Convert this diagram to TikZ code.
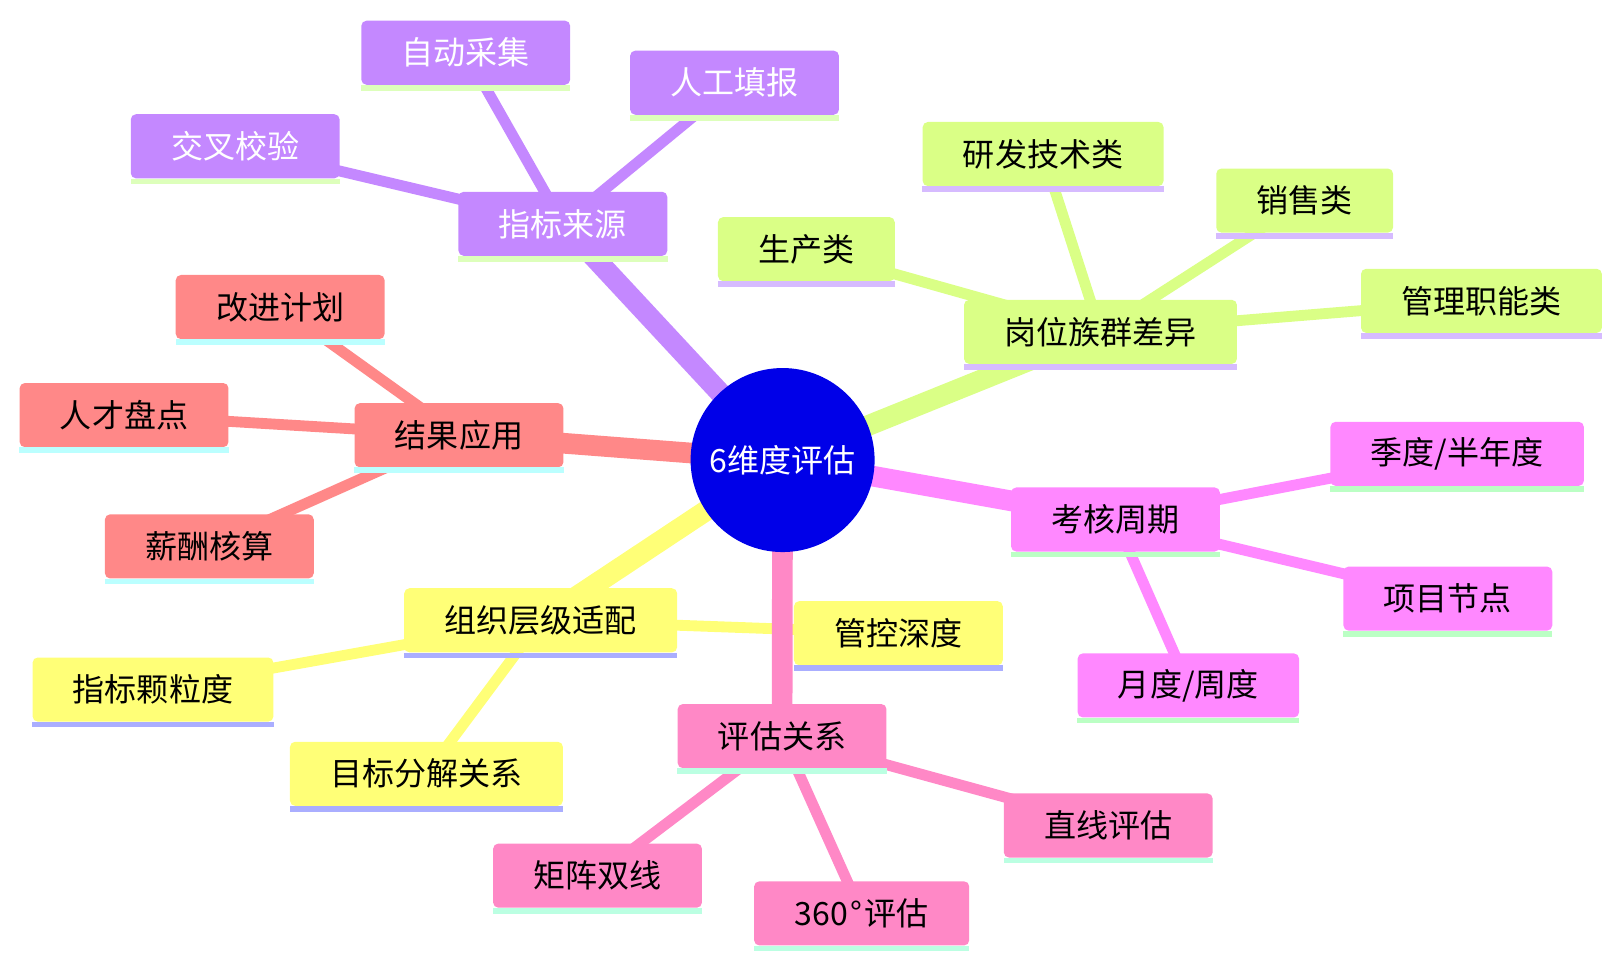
\documentclass[tikz,border=0pt]{standalone}
\usepackage{fontspec}
\newfontfamily\cjk{Noto Sans CJK SC}
\pgfdeclarelayer{bg}
\pgfsetlayers{bg,main}
\definecolor{cPur}{HTML}{C488FF}
\definecolor{cPurL}{HTML}{DDFFBB}
\definecolor{cLim}{HTML}{DAFF86}
\definecolor{cLimL}{HTML}{D6BBFF}
\definecolor{cMag}{HTML}{FF88FF}
\definecolor{cMagL}{HTML}{BBFFC4}
\definecolor{cHot}{HTML}{FF88C6}
\definecolor{cHotL}{HTML}{BBFFE2}
\definecolor{cYel}{HTML}{FFFF77}
\definecolor{cYelL}{HTML}{AAAEFF}
\definecolor{cSal}{HTML}{FF8888}
\definecolor{cSalL}{HTML}{BBFFFF}
\definecolor{cRoot}{HTML}{0000E8}
\begin{document}
\begin{tikzpicture}[x=1pt,y=-1pt,
  box/.style={rectangle, rounded corners=5pt, minimum height=62pt, inner xsep=39pt, inner ysep=0pt,
    font=\cjk\fontsize{31}{35}\selectfont},
  sPur/.style={box, fill=cPur, text=white},
  sLim/.style={box, fill=cLim, text=black},
  sMag/.style={box, fill=cMag, text=black},
  sHot/.style={box, fill=cHot, text=black},
  sYel/.style={box, fill=cYel, text=black},
  sSal/.style={box, fill=cSal, text=black},
  rootedge/.style={line width=20pt},
  childedge/.style={line width=10.5pt},
]
\useasboundingbox (0,0) rectangle (1568,937);

% root
\node[circle, fill=cRoot, text=white, minimum size=178pt, inner sep=0pt,
  font=\cjk\fontsize{31}{35}\selectfont] (root) at (757,445) {6维度评估};

% purple section
\node[sPur] (src) at (544.5,216.5) {指标来源};
\node[sPur] (auto) at (450.5,51) {自动采集};
\node[sPur] (manual) at (710.5,80) {人工填报};
\node[sPur] (cross) at (227.5,141.5) {交叉校验};

% lime section
\node[sLim] (fam) at (1064.5,321) {岗位族群差异};
\node[sLim] (prod) at (780,241) {生产类};
\node[sLim] (rd) at (1009,149) {研发技术类};
\node[sLim] (sale) at (1262,194) {销售类};
\node[sLim] (mgmt) at (1433,291) {管理职能类};

% magenta section
\node[sMag] (cyc) at (1079,502.5) {考核周期};
\node[sMag] (quar) at (1409.5,439) {季度/半年度};
\node[sMag] (proj) at (1400.5,579) {项目节点};
\node[sMag] (month) at (1149.5,663) {月度/周度};

% hot pink section
\node[sHot] (rel) at (756.5,712) {评估关系};
\node[sHot] (line) at (1072,798.5) {直线评估};
\node[sHot] (matrix) at (578,847) {矩阵双线};
\node[sHot] (three) at (833.5,883.5) {360\kern2.5pt°\kern2.5pt评估};

% yellow section
\node[sYel] (org) at (523,600) {组织层级适配};
\node[sYel] (depth) at (869,612.5) {管控深度};
\node[sYel] (gran) at (148,667) {指标颗粒度};
\node[sYel] (goal) at (412.5,748.5) {目标分解关系};

% salmon section
\node[sSal] (use) at (444,421) {结果应用};
\node[sSal] (impr) at (271,297) {改进计划};
\node[sSal] (talent) at (120,401.5) {人才盘点};
\node[sSal] (pay) at (202.5,528.5) {薪酬核算};

% underlines
\foreach \n/\c in {src/cPurL,auto/cPurL,manual/cPurL,cross/cPurL,
  fam/cLimL,prod/cLimL,rd/cLimL,sale/cLimL,mgmt/cLimL,
  cyc/cMagL,quar/cMagL,proj/cMagL,month/cMagL,
  rel/cHotL,line/cHotL,matrix/cHotL,three/cHotL,
  org/cYelL,depth/cYelL,gran/cYelL,goal/cYelL,
  use/cSalL,impr/cSalL,talent/cSalL,pay/cSalL}
  \fill[\c] (\n.south west) rectangle ([yshift=-5.5pt]\n.south east);

\begin{pgfonlayer}{bg}
% child edges
\draw[childedge, cPur] (src.center) -- (auto.center);
\draw[childedge, cPur] (src.center) -- (manual.center);
\draw[childedge, cPur] (src.center) -- (cross.center);
\draw[childedge, cLim] (fam.center) -- (prod.center);
\draw[childedge, cLim] (fam.center) -- (rd.center);
\draw[childedge, cLim] (fam.center) -- (sale.center);
\draw[childedge, cLim] (fam.center) -- (mgmt.center);
\draw[childedge, cMag] (cyc.center) -- (quar.center);
\draw[childedge, cMag] (cyc.center) -- (proj.center);
\draw[childedge, cMag] (cyc.center) -- (month.center);
\draw[childedge, cHot] (rel.center) -- (line.center);
\draw[childedge, cHot] (rel.center) -- (matrix.center);
\draw[childedge, cHot] (rel.center) -- (three.center);
\draw[childedge, cYel] (org.center) -- (depth.center);
\draw[childedge, cYel] (org.center) -- (gran.center);
\draw[childedge, cYel] (org.center) -- (goal.center);
\draw[childedge, cSal] (use.center) -- (impr.center);
\draw[childedge, cSal] (use.center) -- (talent.center);
\draw[childedge, cSal] (use.center) -- (pay.center);
% root edges
\draw[rootedge, cPur] (root.center) -- (src.center);
\draw[rootedge, cLim] (root.center) -- (fam.center);
\draw[rootedge, cMag] (root.center) -- (cyc.center);
\draw[rootedge, cHot] (root.center) -- (rel.center);
\draw[rootedge, cYel] (root.center) -- (org.center);
\draw[rootedge, cSal] (root.center) -- (use.center);
\end{pgfonlayer}
\end{tikzpicture}
\end{document}
